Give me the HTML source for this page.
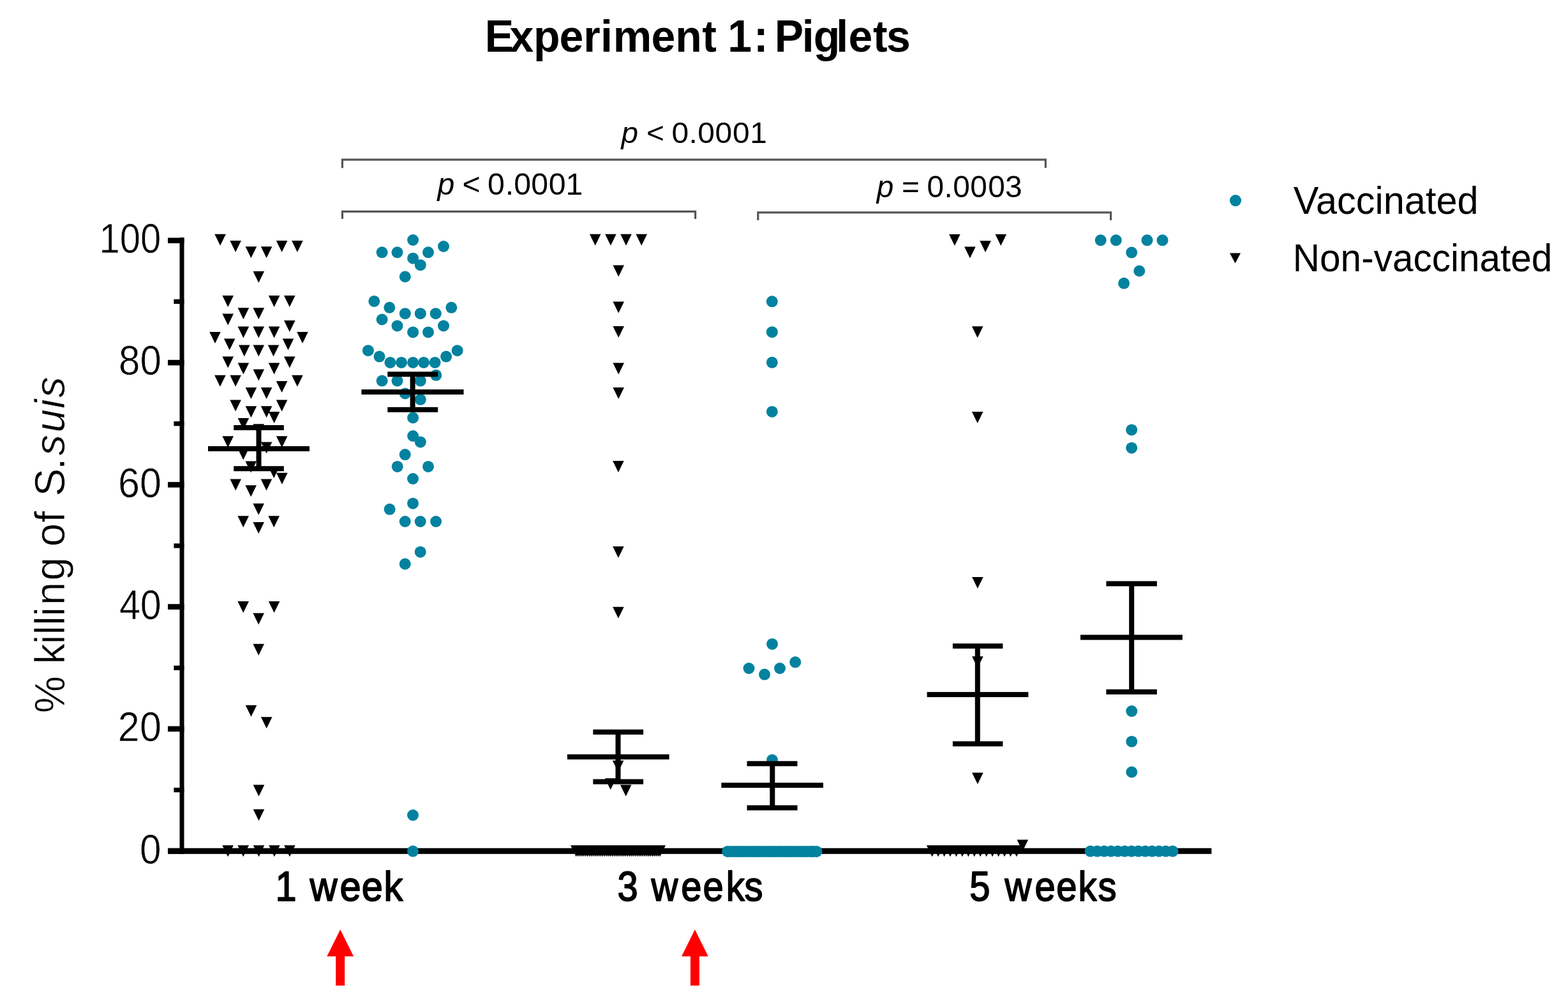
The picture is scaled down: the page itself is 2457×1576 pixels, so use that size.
<!DOCTYPE html><html><head><meta charset="utf-8"><title>Experiment 1: Piglets</title><style>html,body{margin:0;padding:0;background:#fff;}body{width:2457px;height:1576px;overflow:hidden;}svg{display:block;}text{font-family:"Liberation Sans",Arial,sans-serif;fill:#000;}</style></head><body>
<svg width="2457" height="1576" viewBox="0 0 2457 1576">
<rect width="2457" height="1576" fill="#fff"/>
<text transform="matrix(1.0141 0 0 1.0629 0 80.62)" x="749.3 787.5 824.3 864.2 901.6 927.9 947.5 1006.2 1043.6 1084.9 1107.2 1124.5 1164.5 1186.8 1196.8 1239.4 1257.0 1292.0 1311.0 1349.1 1369.7" y="0" font-size="67" font-weight="bold">Experiment 1: Piglets</text><text transform="matrix(1.0181 0 0 0.9905 0 223.70)" x="956.2 982.3 994.9 1022.3 1033.9 1060.4 1073.8 1100.6 1127.7 1154.4" y="0" font-size="47"><tspan font-style="italic">p</tspan> &lt; 0.0001</text><text transform="matrix(1.0261 0 0 1.0119 0 305.08)" x="668.1 694.3 706.2 733.7 744.6 771.5 784.7 811.1 837.8 864.0" y="0" font-size="47"><tspan font-style="italic">p</tspan> &lt; 0.0001</text><text transform="matrix(1.0178 0 0 1.0071 0 308.63)" x="1349.8 1375.9 1388.2 1415.7 1427.2 1453.7 1467.1 1493.7 1521.1 1547.5" y="0" font-size="47"><tspan font-style="italic">p</tspan> = 0.0003</text><text transform="matrix(0.9754 0 0 1.0091 2026.70 335.30)" font-size="61">Vaccinated</text><text transform="matrix(0.9595 0 0 0.9909 2025.80 425.00)" font-size="61">Non-vaccinated</text><text transform="matrix(0.9179 0 0 1.0041 0 1410.60)" x="470.2 506.4 528.8 580.0 617.4 655.3" y="0" font-size="65" stroke="#000" stroke-width="1.8" stroke-linejoin="round">1 week</text><text transform="matrix(0.8916 0 0 1.0061 0 1410.59)" x="1085.2 1121.3 1144.5 1197.0 1235.3 1276.0 1308.4" y="0" font-size="65" stroke="#000" stroke-width="1.8" stroke-linejoin="round">3 weeks</text><text transform="matrix(0.8921 0 0 1.0061 0 1410.59)" x="1703.0 1739.1 1764.9 1817.6 1855.6 1893.9 1928.6" y="0" font-size="65" stroke="#000" stroke-width="1.8" stroke-linejoin="round">5 weeks</text><text transform="matrix(0 -0.9633 0.9781 0 101.11 1120.00)" x="2.9 63.4 82.5 114.9 130.4 145.5 160.5 178.4 218.6 256.5 273.7 312.7 331.6 355.5 398.7 421.8 459.4 498.3 516.0" y="0" font-size="68" stroke="#fff" stroke-width="0.7" stroke-linejoin="round">% killing of S.<tspan font-style="italic">suis</tspan></text><text transform="matrix(0.9724 0 0 1.0310 218.88 1352.50)" font-size="62" stroke="#fff" stroke-width="0.6" stroke-linejoin="round">0</text><text transform="matrix(0.9871 0 0 1.0310 184.85 1161.22)" font-size="62" stroke="#fff" stroke-width="0.6" stroke-linejoin="round">20</text><text transform="matrix(0.9562 0 0 1.0310 186.89 969.94)" font-size="62" stroke="#fff" stroke-width="0.6" stroke-linejoin="round">40</text><text transform="matrix(0.9839 0 0 1.0310 185.06 778.66)" font-size="62" stroke="#fff" stroke-width="0.6" stroke-linejoin="round">60</text><text transform="matrix(0.9683 0 0 1.0310 186.10 587.38)" font-size="62" stroke="#fff" stroke-width="0.6" stroke-linejoin="round">80</text><text transform="matrix(0.9365 0 0 1.0310 155.42 396.10)" font-size="62" stroke="#fff" stroke-width="0.6" stroke-linejoin="round">100</text>
<path d="M536.4 263.2V250.2H1638.4V263" fill="none" stroke="#555" stroke-width="3.2" stroke-linejoin="miter"/>
<path d="M536.4 343V331.3H1089.6V343" fill="none" stroke="#555" stroke-width="3.2" stroke-linejoin="miter"/>
<path d="M1187.8 345V332.8H1740.6V345" fill="none" stroke="#555" stroke-width="3.2" stroke-linejoin="miter"/>
<circle cx="1936" cy="314.1" r="9.1" fill="#03829f"/>
<path d="M1927 396.6H1944L1935.5 412.6Z" fill="#000"/>
<g fill="#000"><rect x="281.5" y="372.2" width="7" height="965.6"/><rect x="263" y="1328.7" width="1635.4" height="9.1"/><rect x="263" y="1328.9" width="25.5" height="8.6"/><rect x="272.4" y="1234" width="16" height="7.2"/><rect x="263" y="1137.6" width="25.5" height="8.6"/><rect x="272.4" y="1042.7" width="16" height="7.2"/><rect x="263" y="946.3" width="25.5" height="8.6"/><rect x="272.4" y="851.4" width="16" height="7.2"/><rect x="263" y="755.1" width="25.5" height="8.6"/><rect x="272.4" y="660.1" width="16" height="7.2"/><rect x="263" y="563.8" width="25.5" height="8.6"/><rect x="272.4" y="468.8" width="16" height="7.2"/><rect x="263" y="372.5" width="25.5" height="8.6"/></g>
<path d="M533.2 1456.2L554.1 1498.2H540.2 V1544H526.2 V1498.2H512.3 Z" fill="#ff0000"/>
<path d="M1088.9 1456.2L1109.8 1498.2H1095.9 V1544H1081.9 V1498.2H1068 Z" fill="#ff0000"/>
<path fill="#000" d="M336.3 366.7H353.9L345.1 384.7ZM360.3 377H377.9L369.1 395ZM384.6 386.3H402.2L393.4 404.3ZM408.8 386.3H426.4L417.6 404.3ZM432.8 377H450.4L441.6 395ZM457.1 377H474.7L465.9 395ZM396.5 424.9H414.1L405.3 442.9ZM348.4 462.9H366L357.2 480.9ZM420.8 462.9H438.4L429.6 480.9ZM445 462.9H462.6L453.8 480.9ZM372.6 482.2H390.2L381.4 500.2ZM396.5 482.2H414.1L405.3 500.2ZM348.4 491.5H366L357.2 509.5ZM445 502H462.6L453.8 520ZM372.6 511.4H390.2L381.4 529.4ZM396.5 511.4H414.1L405.3 529.4ZM420.8 511.4H438.4L429.6 529.4ZM328.2 520.1H345.8L337 538.1ZM465.2 520.1H482.8L474 538.1ZM350.9 530.5H368.5L359.7 548.5ZM442.7 530.5H460.3L451.5 548.5ZM374 540.5H391.6L382.8 558.5ZM396.5 540.5H414.1L405.3 558.5ZM419.7 540.5H437.3L428.5 558.5ZM348.4 558.6H366L357.2 576.6ZM445 558.6H462.6L453.8 576.6ZM372.6 568.5H390.2L381.4 586.5ZM420.8 568.5H438.4L429.6 586.5ZM396.5 578.4H414.1L405.3 596.4ZM336.1 587.8H353.7L344.9 605.8ZM360.3 587.8H377.9L369.1 605.8ZM457.1 587.8H474.7L465.9 605.8ZM432.8 597.1H450.4L441.6 615.1ZM384.6 607.1H402.2L393.4 625.1ZM408.8 607.1H426.4L417.6 625.1ZM360.3 626.4H377.9L369.1 644.4ZM432.8 626.4H450.4L441.6 644.4ZM384.6 636.3H402.2L393.4 654.3ZM408.8 636.3H426.4L417.6 654.3ZM420.8 645.1H438.4L429.6 663.1ZM372.6 655H390.2L381.4 673ZM396.5 664.3H414.1L405.3 682.3ZM348.4 683.3H366L357.2 701.3ZM432.9 683.3H450.5L441.7 701.3ZM408.8 692.5H426.4L417.6 710.5ZM372.4 702.6H390L381.2 720.6ZM384.4 722.6H402L393.2 740.6ZM420.4 731.1H438L429.2 749.1ZM433.1 740.7H450.7L441.9 758.7ZM360.4 750.5H378L369.2 768.5ZM408.7 750.5H426.3L417.5 768.5ZM384.4 760.2H402L393.2 778.2ZM396.4 788.8H414L405.2 806.8ZM372.4 808.3H390L381.2 826.3ZM420.4 808.3H438L429.2 826.3ZM396.4 818H414L405.2 836ZM372.4 942H390L381.2 960ZM420.8 942H438.4L429.6 960ZM396.4 960.6H414L405.2 978.6ZM396.4 1008.7H414L405.2 1026.7ZM384.7 1104.7H402.3L393.5 1122.7ZM408.9 1123.3H426.5L417.7 1141.3ZM396.7 1229.6H414.3L405.5 1247.6ZM396.7 1267.8H414.3L405.5 1285.8ZM348.3 1324.2H365.9L357.1 1342.2ZM372.4 1324.2H390L381.2 1342.2ZM396.7 1324.2H414.3L405.5 1342.2ZM421.1 1324.2H438.7L429.9 1342.2ZM445.1 1324.2H462.7L453.9 1342.2ZM923.9 366.8H941.5L932.7 384.8ZM948.1 366.8H965.7L956.9 384.8ZM972.2 366.8H989.8L981 384.8ZM996.4 366.8H1014L1005.2 384.8ZM960.4 415.5H978L969.2 433.5ZM960.4 472.6H978L969.2 490.6ZM960.4 511H978L969.2 529ZM960.4 568.5H978L969.2 586.5ZM960.4 607.1H978L969.2 625.1ZM960.1 721.9H977.7L968.9 739.9ZM960.1 856H977.7L968.9 874ZM960.1 950.8H977.7L968.9 968.8ZM959.8 1191.5H977.4L968.6 1209.5ZM947.9 1219.2H965.5L956.7 1237.2ZM971.9 1229.5H989.5L980.7 1247.5ZM894 1324.2H911.6L902.8 1342.2ZM897 1324.2H914.6L905.8 1342.2ZM900 1324.2H917.6L908.8 1342.2ZM903 1324.2H920.6L911.8 1342.2ZM905.9 1324.2H923.5L914.7 1342.2ZM908.9 1324.2H926.5L917.7 1342.2ZM911.9 1324.2H929.5L920.7 1342.2ZM914.9 1324.2H932.5L923.7 1342.2ZM917.9 1324.2H935.5L926.7 1342.2ZM920.9 1324.2H938.5L929.7 1342.2ZM923.9 1324.2H941.5L932.7 1342.2ZM926.9 1324.2H944.4L935.6 1342.2ZM929.8 1324.2H947.4L938.6 1342.2ZM932.8 1324.2H950.4L941.6 1342.2ZM935.8 1324.2H953.4L944.6 1342.2ZM938.8 1324.2H956.4L947.6 1342.2ZM941.8 1324.2H959.4L950.6 1342.2ZM944.8 1324.2H962.4L953.6 1342.2ZM947.8 1324.2H965.4L956.6 1342.2ZM950.7 1324.2H968.3L959.5 1342.2ZM953.7 1324.2H971.3L962.5 1342.2ZM956.7 1324.2H974.3L965.5 1342.2ZM959.7 1324.2H977.3L968.5 1342.2ZM962.7 1324.2H980.3L971.5 1342.2ZM965.7 1324.2H983.3L974.5 1342.2ZM968.7 1324.2H986.3L977.5 1342.2ZM971.6 1324.2H989.2L980.4 1342.2ZM974.6 1324.2H992.2L983.4 1342.2ZM977.6 1324.2H995.2L986.4 1342.2ZM980.6 1324.2H998.2L989.4 1342.2ZM983.6 1324.2H1001.2L992.4 1342.2ZM986.6 1324.2H1004.2L995.4 1342.2ZM989.6 1324.2H1007.2L998.4 1342.2ZM992.6 1324.2H1010.1L1001.4 1342.2ZM995.5 1324.2H1013.1L1004.3 1342.2ZM998.5 1324.2H1016.1L1007.3 1342.2ZM1001.5 1324.2H1019.1L1010.3 1342.2ZM1004.5 1324.2H1022.1L1013.3 1342.2ZM1007.5 1324.2H1025.1L1016.3 1342.2ZM1010.5 1324.2H1028.1L1019.3 1342.2ZM1013.5 1324.2H1031.1L1022.3 1342.2ZM1016.4 1324.2H1034L1025.2 1342.2ZM1019.4 1324.2H1037L1028.2 1342.2ZM1022.4 1324.2H1040L1031.2 1342.2ZM1025.4 1324.2H1043L1034.2 1342.2ZM1487.1 367.1H1504.7L1495.9 385.1ZM1511.1 386.6H1528.7L1519.9 404.6ZM1535.3 377.2H1552.9L1544.1 395.2ZM1559.5 367.1H1577.1L1568.3 385.1ZM1522.9 511.2H1540.5L1531.7 529.2ZM1522.9 645H1540.5L1531.7 663ZM1523.1 904H1540.7L1531.9 922ZM1523.1 1028.3H1540.7L1531.9 1046.3ZM1523.1 1210.4H1540.7L1531.9 1228.4ZM1593.6 1315.4H1611.2L1602.4 1333.4ZM1451.9 1324.2H1469.5L1460.7 1342.2ZM1461.3 1324.2H1478.9L1470.1 1342.2ZM1470.8 1324.2H1488.4L1479.6 1342.2ZM1480.2 1324.2H1497.8L1489 1342.2ZM1489.7 1324.2H1507.3L1498.5 1342.2ZM1499.1 1324.2H1516.7L1507.9 1342.2ZM1508.6 1324.2H1526.2L1517.4 1342.2ZM1518 1324.2H1535.6L1526.8 1342.2ZM1527.4 1324.2H1545L1536.2 1342.2ZM1536.9 1324.2H1554.5L1545.7 1342.2ZM1546.3 1324.2H1563.9L1555.1 1342.2ZM1555.8 1324.2H1573.4L1564.6 1342.2ZM1565.2 1324.2H1582.8L1574 1342.2ZM1574.7 1324.2H1592.3L1583.5 1342.2ZM1584.1 1324.2H1601.7L1592.9 1342.2Z"/>
<g fill="#03829f"><circle cx="647.1" cy="376" r="9"/><circle cx="695" cy="386" r="9"/><circle cx="598.6" cy="395.3" r="9"/><circle cx="622.5" cy="395.3" r="9"/><circle cx="671" cy="395.3" r="9"/><circle cx="647.1" cy="404.7" r="9"/><circle cx="658.8" cy="415.2" r="9"/><circle cx="634.8" cy="433.5" r="9"/><circle cx="586.3" cy="471.9" r="9"/><circle cx="610.3" cy="481.8" r="9"/><circle cx="707.3" cy="481.8" r="9"/><circle cx="634.8" cy="491.2" r="9"/><circle cx="658.8" cy="491.2" r="9"/><circle cx="682.7" cy="491.2" r="9"/><circle cx="598.6" cy="500.5" r="9"/><circle cx="622.5" cy="510.4" r="9"/><circle cx="695" cy="510.4" r="9"/><circle cx="647.1" cy="520.4" r="9"/><circle cx="671" cy="520.4" r="9"/><circle cx="576.9" cy="549.2" r="9"/><circle cx="716.6" cy="549.2" r="9"/><circle cx="594.5" cy="558.6" r="9"/><circle cx="699.1" cy="558.6" r="9"/><circle cx="611.4" cy="567.9" r="9"/><circle cx="629" cy="567.9" r="9"/><circle cx="647.1" cy="567.9" r="9"/><circle cx="664" cy="567.9" r="9"/><circle cx="681.6" cy="567.9" r="9"/><circle cx="683.3" cy="587.8" r="9"/><circle cx="598.6" cy="596.6" r="9"/><circle cx="622.5" cy="596.6" r="9"/><circle cx="658.8" cy="596.6" r="9"/><circle cx="634.8" cy="616.4" r="9"/><circle cx="658.8" cy="625.8" r="9"/><circle cx="647.1" cy="654.4" r="9"/><circle cx="647.1" cy="683" r="9"/><circle cx="658.8" cy="692.4" r="9"/><circle cx="634.7" cy="712.1" r="9"/><circle cx="622.7" cy="730.9" r="9"/><circle cx="671" cy="730.9" r="9"/><circle cx="647" cy="750" r="9"/><circle cx="647" cy="788.7" r="9"/><circle cx="610.6" cy="797.8" r="9"/><circle cx="634.7" cy="817" r="9"/><circle cx="658.7" cy="817" r="9"/><circle cx="683.1" cy="817" r="9"/><circle cx="658.7" cy="864.7" r="9"/><circle cx="634.7" cy="883.5" r="9"/><circle cx="647" cy="1277" r="9"/><circle cx="647" cy="1333.6" r="9"/><circle cx="1209.8" cy="472.3" r="9"/><circle cx="1209.8" cy="520.2" r="9"/><circle cx="1209.8" cy="567.8" r="9"/><circle cx="1209.8" cy="644.9" r="9"/><circle cx="1210" cy="1008.9" r="9"/><circle cx="1246.2" cy="1037.3" r="9"/><circle cx="1173.5" cy="1047" r="9"/><circle cx="1222" cy="1047" r="9"/><circle cx="1198" cy="1056.6" r="9"/><circle cx="1210" cy="1190.5" r="9"/><circle cx="1140" cy="1333.9" r="9"/><circle cx="1145" cy="1333.9" r="9"/><circle cx="1150" cy="1333.9" r="9"/><circle cx="1154.9" cy="1333.9" r="9"/><circle cx="1159.9" cy="1333.9" r="9"/><circle cx="1164.9" cy="1333.9" r="9"/><circle cx="1169.9" cy="1333.9" r="9"/><circle cx="1174.9" cy="1333.9" r="9"/><circle cx="1179.9" cy="1333.9" r="9"/><circle cx="1184.8" cy="1333.9" r="9"/><circle cx="1189.8" cy="1333.9" r="9"/><circle cx="1194.8" cy="1333.9" r="9"/><circle cx="1199.8" cy="1333.9" r="9"/><circle cx="1204.8" cy="1333.9" r="9"/><circle cx="1209.8" cy="1333.9" r="9"/><circle cx="1214.7" cy="1333.9" r="9"/><circle cx="1219.7" cy="1333.9" r="9"/><circle cx="1224.7" cy="1333.9" r="9"/><circle cx="1229.7" cy="1333.9" r="9"/><circle cx="1234.7" cy="1333.9" r="9"/><circle cx="1239.6" cy="1333.9" r="9"/><circle cx="1244.6" cy="1333.9" r="9"/><circle cx="1249.6" cy="1333.9" r="9"/><circle cx="1254.6" cy="1333.9" r="9"/><circle cx="1259.6" cy="1333.9" r="9"/><circle cx="1264.6" cy="1333.9" r="9"/><circle cx="1269.5" cy="1333.9" r="9"/><circle cx="1274.5" cy="1333.9" r="9"/><circle cx="1279.5" cy="1333.9" r="9"/><circle cx="1724.7" cy="376.3" r="9"/><circle cx="1748.8" cy="376.3" r="9"/><circle cx="1797.5" cy="376.3" r="9"/><circle cx="1821.5" cy="376.3" r="9"/><circle cx="1773.2" cy="395.6" r="9"/><circle cx="1785.3" cy="424.5" r="9"/><circle cx="1761.1" cy="443.8" r="9"/><circle cx="1773.2" cy="673.4" r="9"/><circle cx="1773.2" cy="701.7" r="9"/><circle cx="1773.3" cy="1114.1" r="9"/><circle cx="1773.3" cy="1161.7" r="9"/><circle cx="1773.3" cy="1209.5" r="9"/><circle cx="1708.7" cy="1333.6" r="9"/><circle cx="1719.4" cy="1333.6" r="9"/><circle cx="1730.2" cy="1333.6" r="9"/><circle cx="1740.9" cy="1333.6" r="9"/><circle cx="1751.6" cy="1333.6" r="9"/><circle cx="1762.4" cy="1333.6" r="9"/><circle cx="1773.1" cy="1333.6" r="9"/><circle cx="1783.8" cy="1333.6" r="9"/><circle cx="1794.6" cy="1333.6" r="9"/><circle cx="1805.3" cy="1333.6" r="9"/><circle cx="1816" cy="1333.6" r="9"/><circle cx="1826.8" cy="1333.6" r="9"/><circle cx="1837.5" cy="1333.6" r="9"/></g>
<g fill="#000"><rect x="401.5" y="670" width="8" height="64.2"/><rect x="366.2" y="666" width="78.6" height="8"/><rect x="366.2" y="730.2" width="78.6" height="8"/><rect x="326" y="699" width="159" height="8"/><rect x="642.6" y="586.3" width="8" height="55.5"/><rect x="607.3" y="582.3" width="78.9" height="8"/><rect x="607.3" y="637.8" width="78.9" height="8"/><rect x="566.4" y="610.1" width="160.1" height="8"/><rect x="964.5" y="1146.8" width="8" height="77.8"/><rect x="929.3" y="1142.8" width="78.8" height="8"/><rect x="929.3" y="1220.6" width="78.8" height="8"/><rect x="888.9" y="1181.7" width="159.7" height="8"/><rect x="1206.3" y="1196.3" width="8" height="69.2"/><rect x="1170.5" y="1192.3" width="79" height="8"/><rect x="1170.5" y="1261.5" width="79" height="8"/><rect x="1130.3" y="1226.2" width="159.7" height="8"/><rect x="1527.8" y="1012.1" width="8" height="153.2"/><rect x="1492.9" y="1008.1" width="78.5" height="8"/><rect x="1492.9" y="1161.3" width="78.5" height="8"/><rect x="1452.6" y="1084.1" width="158.8" height="8"/><rect x="1769.2" y="914.4" width="8" height="169.5"/><rect x="1733.4" y="910.4" width="79.5" height="8"/><rect x="1733.4" y="1079.9" width="79.5" height="8"/><rect x="1693" y="994.5" width="159.9" height="8"/></g>
</svg></body></html>
